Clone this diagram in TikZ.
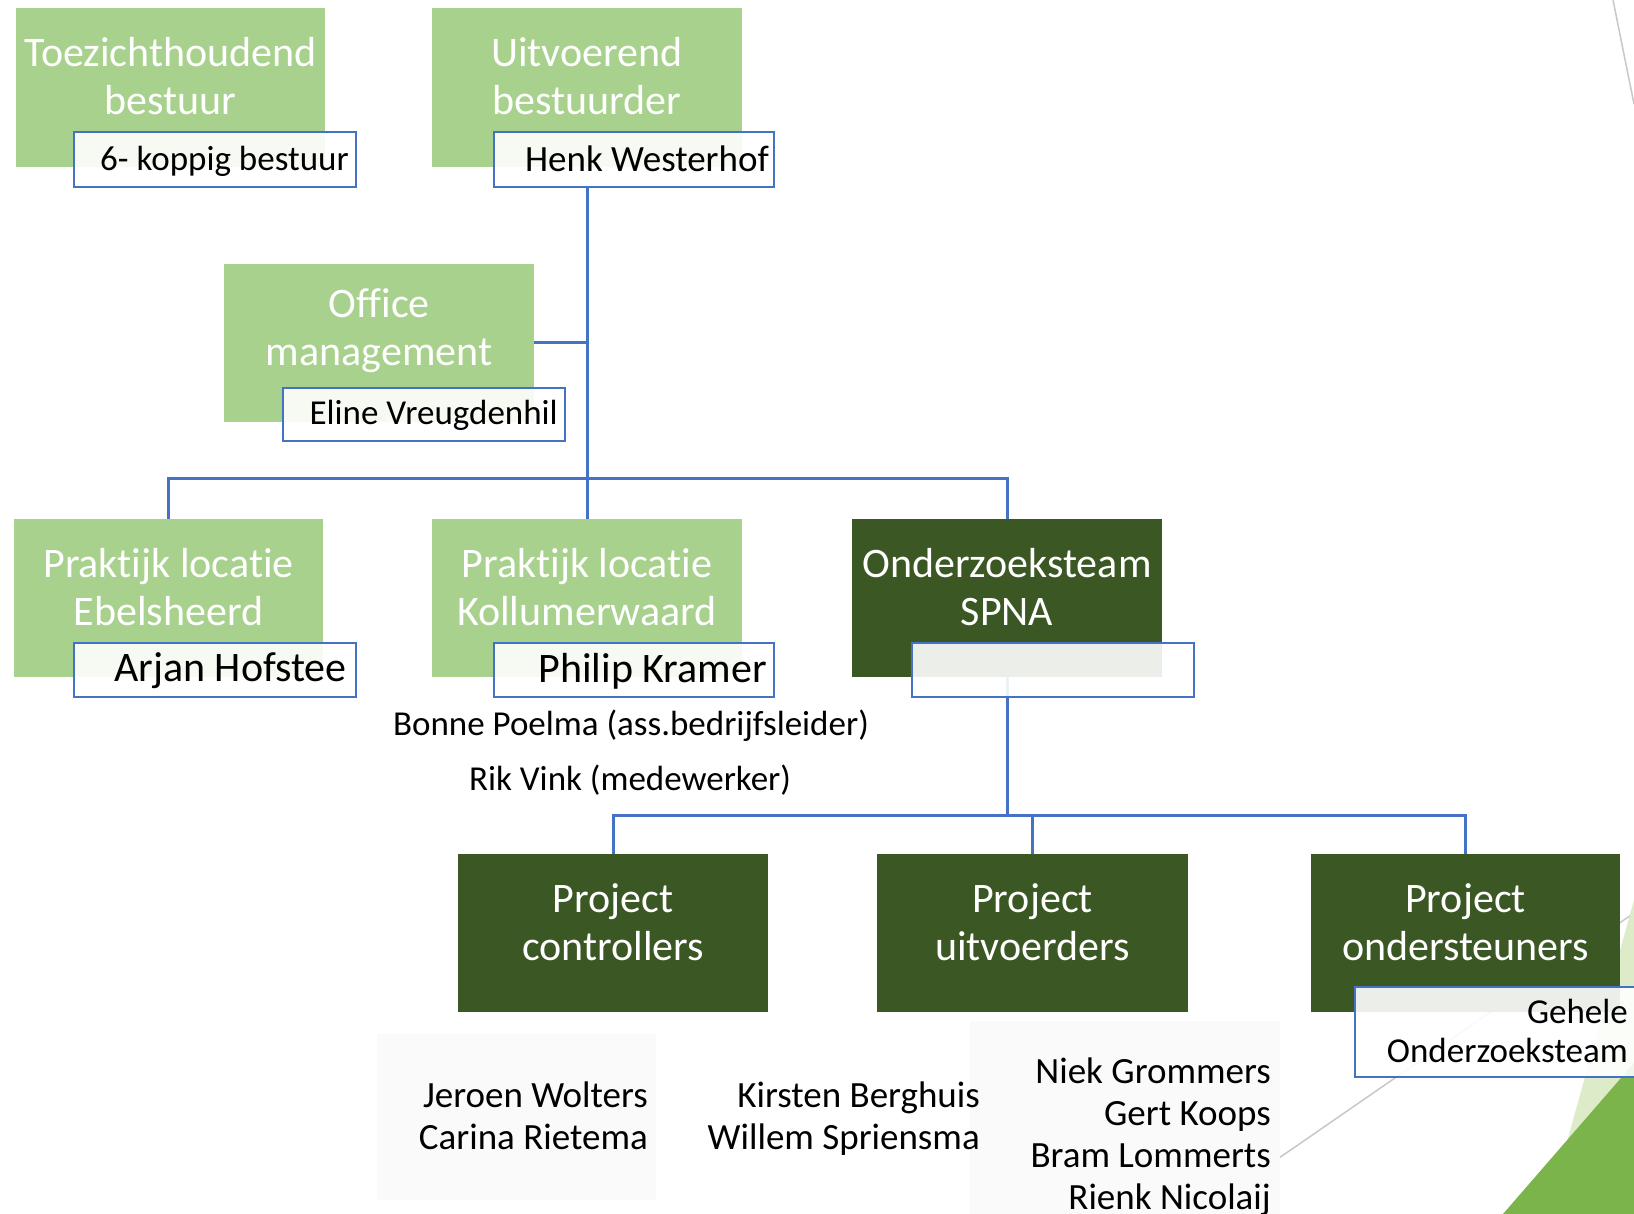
\documentclass[tikz,border=0pt]{standalone}
\usepackage{fontspec}
\setmainfont{Carlito}[Ligatures=NoCommon]
\definecolor{lg}{HTML}{A9D18E}
\definecolor{dg}{HTML}{3B5724}
\definecolor{cb}{HTML}{4472C4}
\definecolor{decolight}{HTML}{DDEBC9}
\definecolor{decodark}{HTML}{7AB44B}
\definecolor{decoline}{HTML}{C8C8C8}
\begin{document}
\begin{tikzpicture}[x=1pt,y=-1pt,
  lgbox/.style={fill=lg, draw=none, inner sep=0pt},
  dgbox/.style={fill=dg, draw=none, inner sep=0pt},
  boxtext/.style={text=white, align=center, inner sep=0pt, font=\fontsize{42}{48}\selectfont},
  subbox/.style={draw=cb, line width=2pt, fill=white, fill opacity=0.9, inner sep=0pt},
  subtext/.style={anchor=east, inner sep=0pt, text=black},
  listtext/.style={anchor=east, align=right, inner sep=0pt, text=black, font=\fontsize{37}{42}\selectfont},
  listbg/.style={fill=black!2, draw=none, inner sep=0pt},
  conn/.style={draw=cb, line width=3pt},
  decoln/.style={draw=decoline, line width=1.5pt}
]
\fill[white] (0,0) rectangle (1634,1214);
\clip (0,0) rectangle (1634,1214);

% decoration
\coordinate (d1) at (1613,0);
\coordinate (d2) at (1634,104);
\coordinate (d3) at (1237,1187);
\coordinate (d4) at (1634,913);
\draw[decoln] (d1) -- (d2);
\draw[decoln] (d3) -- (d4);
\fill[decolight] (1634,900) -- (1547,1214) -- (1634,1214) -- cycle;
\fill[decodark] (1634,1063) -- (1503,1214) -- (1634,1214) -- cycle;

% list backgrounds
\node[listbg, minimum width=279pt, minimum height=166pt] (bgj) at (516.5,1117) {};
\node[listbg, minimum width=310pt, minimum height=200pt] (bgn) at (1125,1121) {};

% green boxes
\node[lgbox, minimum width=309pt, minimum height=159pt] (tb) at (170.5,87.5) {};
\node[lgbox, minimum width=310pt, minimum height=159pt] (ub) at (587,87.5) {};
\node[lgbox, minimum width=310pt, minimum height=158pt] (om) at (379,343) {};
\node[lgbox, minimum width=309pt, minimum height=158pt] (eb) at (168.5,598) {};
\node[lgbox, minimum width=310pt, minimum height=158pt] (kw) at (587,598) {};
\node[dgbox, minimum width=310pt, minimum height=158pt] (spna) at (1007,598) {};
\node[dgbox, minimum width=310pt, minimum height=158pt] (pc) at (613,933) {};
\node[dgbox, minimum width=311pt, minimum height=158pt] (pu) at (1032.5,933) {};
\node[dgbox, minimum width=309pt, minimum height=158pt] (po) at (1465.5,933) {};

\node[boxtext] (tbt) at (170.5,76) {Toezichthoudend\\bestuur};
\node[boxtext] (ubt) at (587,76) {Uitvoerend\\bestuurder};
\node[boxtext] (omt) at (379,331) {Office\\management};
\node[boxtext] (ebt) at (168.5,587) {Praktijk locatie\\Ebelsheerd};
\node[boxtext] (kwt) at (587,587) {Praktijk locatie\\Kollumerwaard};
\node[boxtext] (spnat) at (1007,587) {Onderzoeksteam\\SPNA};
\node[boxtext] (pct) at (613,922) {Project\\controllers};
\node[boxtext] (put) at (1032.5,922) {Project\\uitvoerders};
\node[boxtext] (pot) at (1465.5,922) {Project\\ondersteuners};

% connectors
\coordinate (bar1) at (587,479);
\coordinate (bar2) at (1007,815);
\draw[conn] (ub.south |- 0,187) -- (kw.north);
\draw[conn] (om.east) -- (om.east -| ub.south);
\draw[conn] (eb.north) -- (eb.north |- bar1) -- (spna.north |- bar1) -- (spna.north);
\draw[conn] (spna.south) -- (bar2);
\draw[conn] (pc.north) -- (pc.north |- bar2) -- (po.north |- bar2) -- (po.north);
\draw[conn] (pu.north) -- (pu.north |- bar2);

% sub boxes
\node[subbox, minimum width=282pt, minimum height=55pt] (kb) at (215,159.5) {};
\node[subbox, minimum width=280pt, minimum height=55pt] (hw) at (634,159.5) {};
\node[subbox, minimum width=282pt, minimum height=53pt] (ev) at (424,414.5) {};
\node[subbox, minimum width=282pt, minimum height=54pt] (ah) at (215,670) {};
\node[subbox, minimum width=280pt, minimum height=54pt] (pk) at (634,670) {};
\node[subbox, minimum width=282pt, minimum height=54pt] (sp) at (1053,670) {};
\node[subbox, minimum width=295pt, minimum height=90pt] (go) at (1502.5,1032) {};

\node[subtext, font=\fontsize{35}{40}\selectfont] (kbt) at ([xshift=-8pt,yshift=-2pt]kb.east) {6- koppig bestuur};
\node[subtext, font=\fontsize{37}{42}\selectfont] (hwt) at ([xshift=-6pt,yshift=1pt]hw.east) {Henk Westerhof};
\node[subtext, font=\fontsize{35}{40}\selectfont] (evt) at ([xshift=-8pt,yshift=-1pt]ev.east) {Eline Vreugdenhil};
\node[subtext, font=\fontsize{42}{48}\selectfont] (aht) at ([xshift=-10pt,yshift=-1pt]ah.east) {Arjan Hofstee};
\node[subtext, font=\fontsize{42}{48}\selectfont] (pkt) at ([xshift=-8pt,yshift=-1pt]pk.east) {Philip Kramer};
\node[listtext, font=\fontsize{35}{39}\selectfont] (got) at (1628,1030.5) {Gehele\\Onderzoeksteam};

% loose texts
\node[inner sep=0pt, font=\fontsize{35}{40}\selectfont] (bp) at (631,726) {Bonne Poelma (ass.bedrijfsleider)};
\node[inner sep=0pt, font=\fontsize{35}{40}\selectfont] (rv) at (630,780) {Rik Vink (medewerker)};

\node[listtext] (jw) at (648,1116) {Jeroen Wolters\\Carina Rietema};
\node[listtext] (kbs) at (980,1119) {Kirsten Berghuis\\Willem Spriensma};
\node[listtext] (ng) at (1271,1136.5) {Niek Grommers\\Gert Koops\\Bram Lommerts\\Rienk Nicolaij};
\end{tikzpicture}
\end{document}
